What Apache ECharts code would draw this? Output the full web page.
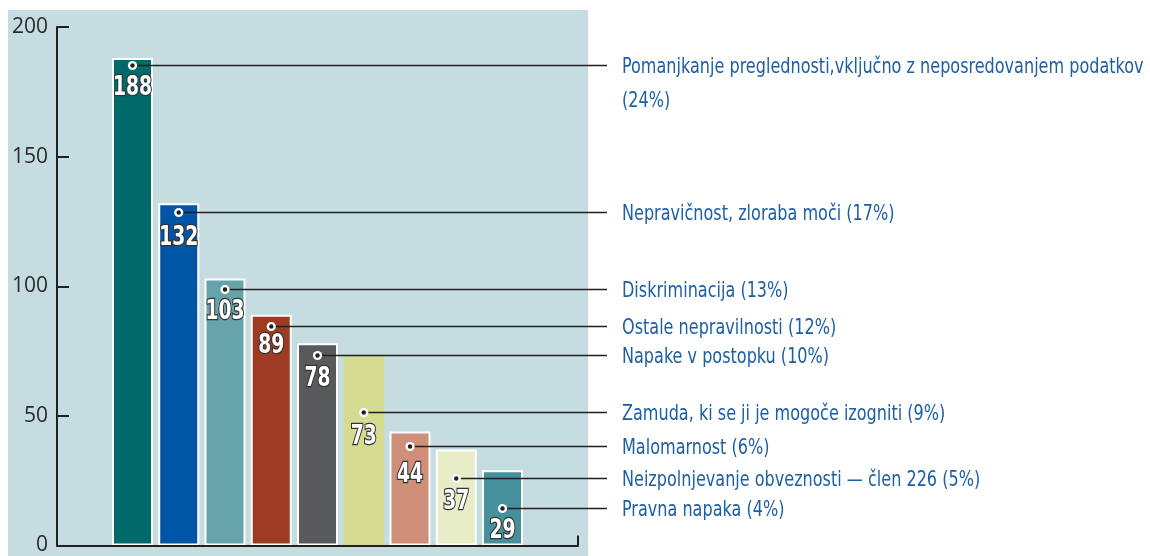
<!DOCTYPE html>
<html>
<head>
<meta charset="utf-8">
<script src="https://cdn.jsdelivr.net/npm/echarts@6/dist/echarts.min.js"></script>
<style>
    html, body { margin: 0; padding: 0; background: #ffffff; }
    #chart-container { width: 1150px; height: 556px; }
</style>
</head>
<body>
<div id="chart-container"></div>
<script>
// categories (right-hand labels) and bar values
const categories = [
    'Pomanjkanje preglednosti,vključno z neposredovanjem podatkov\n(24%)',
    'Nepravičnost, zloraba moči (17%)',
    'Diskriminacija (13%)',
    'Ostale nepravilnosti (12%)',
    'Napake v postopku (10%)',
    'Zamuda, ki se ji je mogoče izogniti (9%)',
    'Malomarnost (6%)',
    'Neizpolnjevanje obveznosti — člen 226 (5%)',
    'Pravna napaka (4%)'
];
const values = [188, 132, 103, 89, 78, 73, 44, 37, 29];
const yTicks = [0, 50, 100, 150, 200];

// colours and layout of the annotations
const barColors = ['#006a6a', '#0055a5', '#67a3aa', '#9d3b24', '#58595b', '#d5dc92', '#cf8f78', '#e8edc8', '#45909a'];
const barBorder = [true, true, true, true, true, false, true, true, true];
const leaderDrop = [7, 9, 11, 11, 12, 56, 15, 28, 38];   // px below bar top
const numberDrop = [23, 26, 23, 20, 24, 25, 29, 24, 23]; // px below leader dot

const labelFont = '"Liberation Sans Narrow", "DejaVu Sans Condensed", sans-serif';
const textBlue = '#1d5fa7';
const inkColor = '#231f20';

function renderLeader(params, api) {
    let i = params.dataIndex;
    let top = api.coord([api.value(0), api.value(1)]);
    let x = top[0];
    let y = Math.round(top[1] + leaderDrop[i]) + 0.5;
    let lineEnd = 607;
    let textX = 622;
    return {
        type: 'group',
        children: [
            {
                type: 'line',
                shape: { x1: x, y1: y, x2: lineEnd, y2: y },
                style: { stroke: inkColor, lineWidth: 1.4 }
            },
            {
                type: 'circle',
                shape: { cx: x, cy: y, r: 4.6 },
                style: { fill: '#ffffff' }
            },
            {
                type: 'circle',
                shape: { cx: x, cy: y, r: 2.2 },
                style: { fill: inkColor }
            },
            {
                type: 'text',
                x: x,
                y: y + numberDrop[i],
                scaleX: 0.8,
                style: {
                    text: String(values[i]),
                    x: 0,
                    y: 0,
                    align: 'center',
                    verticalAlign: 'middle',
                    fontFamily: labelFont,
                    fontWeight: 'bold',
                    fontSize: 26,
                    fill: '#ffffff',
                    stroke: '#333333',
                    lineWidth: 2.5
                }
            },
            {
                type: 'text',
                x: textX,
                y: y - 15,
                scaleX: 0.85,
                style: {
                    text: categories[i],
                    x: 0,
                    y: 0,
                    align: 'left',
                    verticalAlign: 'top',
                    lineHeight: 34,
                    fontFamily: labelFont,
                    fontSize: 21,
                    fill: textBlue
                }
            }
        ]
    };
}

let barData = [];
for (let i = 0; i < values.length; i++) {
    barData.push({
        value: [i, values[i]],
        itemStyle: {
            color: barColors[i],
            borderColor: '#ffffff',
            borderWidth: barBorder[i] ? 2 : 0
        }
    });
}

let leaderData = [];
for (let i = 0; i < values.length; i++) {
    leaderData.push([i, values[i]]);
}

let dom = document.getElementById('chart-container');
let myChart = echarts.init(dom, null, { renderer: 'canvas' });

let option = {
    animation: false,
    backgroundColor: '#ffffff',
    graphic: [
        {
            type: 'rect',
            left: 8,
            top: 10,
            z: -10,
            shape: { width: 580, height: 546 },
            style: { fill: '#c5dde1' }
        }
    ],
    grid: {
        left: 57,
        top: 27,
        width: 521,
        height: 520,
        containLabel: false
    },
    xAxis: {
        type: 'value',
        min: -1.632,
        max: 9.632,
        z: 10,
        axisLine: { show: true, onZero: false, lineStyle: { color: inkColor, width: 2 } },
        axisTick: {
            show: true,
            inside: true,
            length: 10,
            customValues: [9.632],
            lineStyle: { color: inkColor, width: 2 }
        },
        axisLabel: { show: false },
        splitLine: { show: false }
    },
    yAxis: {
        type: 'value',
        min: 0,
        max: 200,
        interval: 50,
        z: 10,
        axisLine: { show: true, onZero: false, lineStyle: { color: inkColor, width: 2 } },
        axisTick: {
            show: true,
            inside: true,
            length: 12,
            customValues: yTicks.slice(1),
            lineStyle: { color: inkColor, width: 2 }
        },
        axisLabel: {
            show: true,
            margin: 9,
            color: '#2a2a2a',
            fontFamily: '"Open Sans", "Noto Sans", sans-serif',
            fontSize: 21,
            customValues: yTicks
        },
        splitLine: { show: false }
    },
    series: [
        {
            type: 'bar',
            barWidth: 41,
            data: barData,
            z: 2
        },
        {
            type: 'custom',
            renderItem: renderLeader,
            data: leaderData,
            clip: false,
            z: 5
        }
    ]
};

if (option && typeof option === 'object') {
    myChart.setOption(option);
}
window.addEventListener('resize', myChart.resize);
</script>
</body>
</html>
